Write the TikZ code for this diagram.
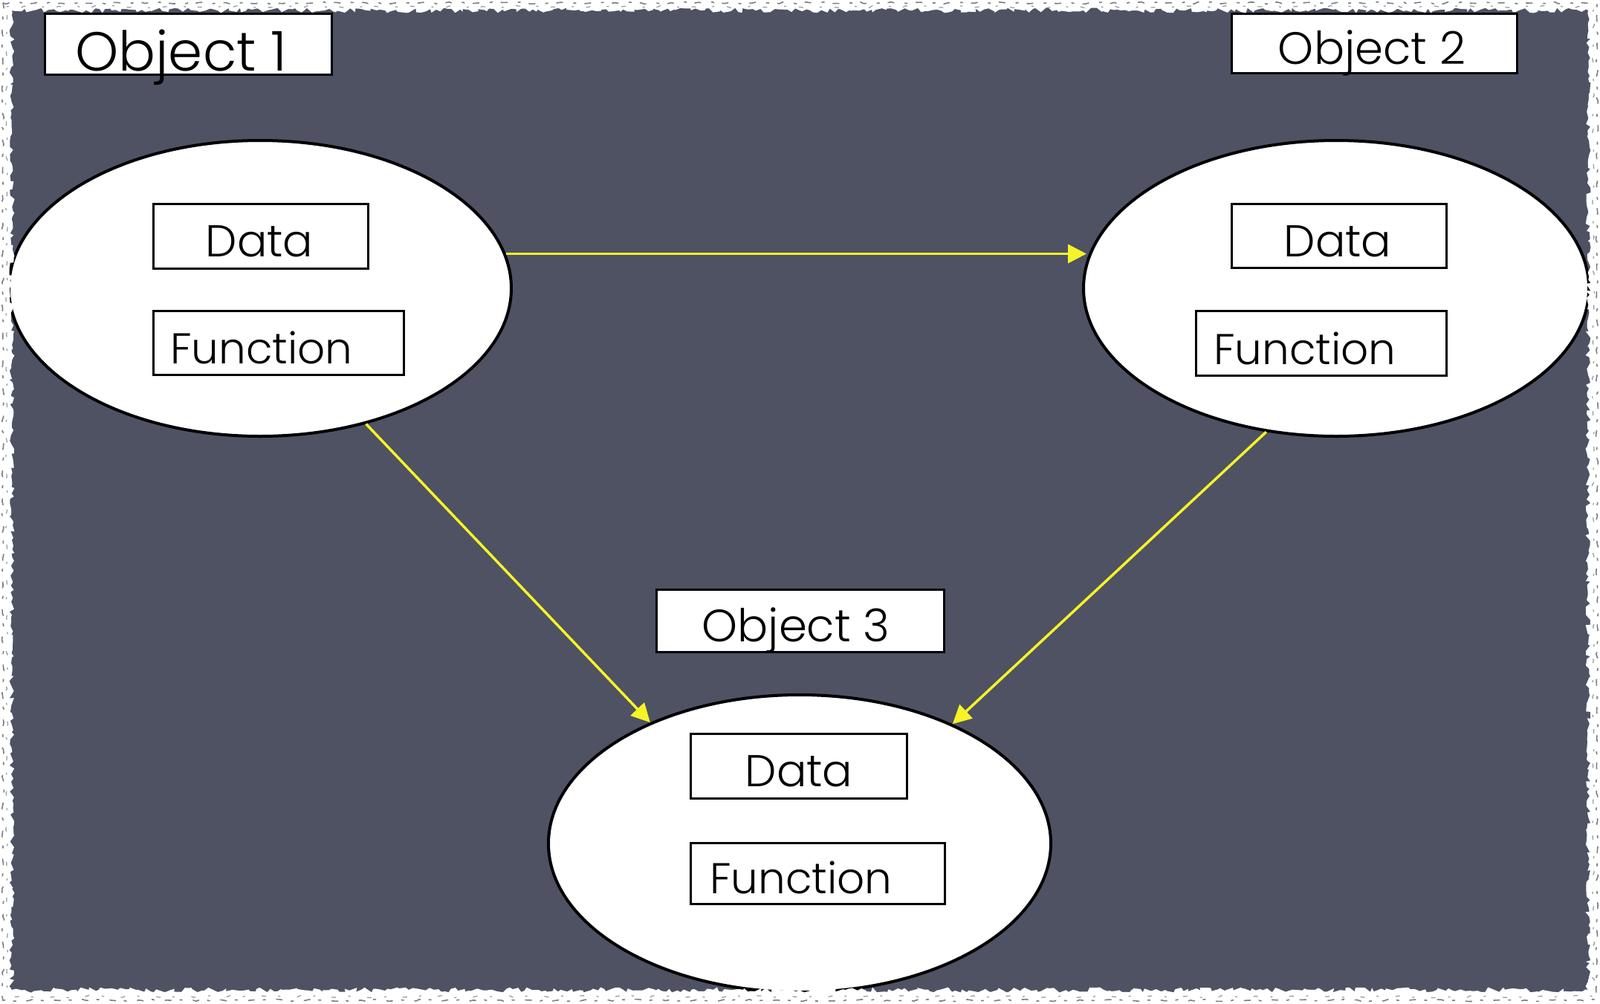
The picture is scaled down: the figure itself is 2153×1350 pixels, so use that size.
\documentclass[tikz,border=0pt]{standalone}
\usepackage{fontspec}
\setmainfont{Poppins Light}
\usetikzlibrary{arrows.meta,decorations.pathmorphing,calc,shapes.geometric}
\definecolor{board}{RGB}{78,82,99}
\definecolor{arrowyel}{RGB}{246,244,38}
\tikzset{
  objell/.style={ellipse, draw=black, fill=white, line width=4pt, inner sep=0pt,
                 minimum width=676pt, minimum height=398pt},
  objbox/.style={rectangle, draw=black, fill=white, line width=3.5pt, inner sep=0pt},
  lbl/.style={inner sep=0pt, text=black},
  biglbl/.style={lbl, font=\fontsize{74}{74}\selectfont},
  midlbl/.style={lbl, font=\fontsize{61}{61}\selectfont},
  datalbl/.style={lbl, font=\fontsize{60}{60}\selectfont},
  funlbl/.style={lbl, font=\fontsize{58}{58}\selectfont},
  yarrow/.style={draw=arrowyel, line width=3.5pt, -{Triangle[length=25pt,width=25pt]}},
}
\begin{document}
\begin{tikzpicture}[x=1pt,y=-1pt]
\useasboundingbox (0,0) rectangle (2153,1350);
% chalkboard
\fill[board] (0,0) rectangle (2153,1350);

% ellipses
\node[objell] (e1) at (350,388) {};
\node[objell, minimum width=680pt] (e2) at (1798,388) {};
\node[objell, minimum height=400pt] (e3) at (1076,1135) {};

% title boxes
\node[objbox, minimum width=386pt, minimum height=82pt] (o1) at (253.5,59.5) {};
\node[objbox, minimum width=384pt, minimum height=80pt] (o2) at (1849.5,58.5) {};
\node[objbox, minimum width=387pt, minimum height=84pt] (o3) at (1077,835.5) {};
\node[biglbl, anchor=base] (o1t) at (244,95) {Object 1};
\node[midlbl, anchor=base] (o2t) at (1846,86) {Object 2};
\node[midlbl, anchor=base] (o3t) at (1071,863) {Object 3};

% data / function boxes
\node[objbox, minimum width=289pt, minimum height=87pt] (d1) at (351,318) {};
\node[objbox, minimum width=337pt, minimum height=86pt] (f1) at (375,461.5) {};
\node[objbox, minimum width=289pt, minimum height=86pt] (d2) at (1802,317.5) {};
\node[objbox, minimum width=337pt, minimum height=87pt] (f2) at (1778,462) {};
\node[objbox, minimum width=291pt, minimum height=87pt] (d3) at (1075,1031) {};
\node[objbox, minimum width=342pt, minimum height=82pt] (f3) at (1100.5,1175.5) {};

\node[datalbl, anchor=base] (d1t) at (349,345) {Data};
\node[datalbl, anchor=base] (d2t) at (1800,345) {Data};
\node[datalbl, anchor=base] (d3t) at (1075,1058) {Data};
\node[funlbl, anchor=base west] (f1t) at (229,489) {Function};
\node[funlbl, anchor=base west] (f2t) at (1633,490) {Function};
\node[funlbl, anchor=base west] (f3t) at (955,1202) {Function};

% connectors
\coordinate (a1s) at (e1.8.1);
\draw[yarrow] (a1s) -- ([xshift=6pt]a1s -| e2.west);
\draw[yarrow] (e1.-52.1) -- (e3.141.1);
\draw[yarrow] (e2.-116.7) -- (e3.38.8);

% rough white frame
\fill[white, even odd rule] (0,0) rectangle (2153,1350)
  decorate[decoration={random steps,segment length=5pt,amplitude=3.5pt}]
  {(16,14) -- (2137,14) -- (2137,1332) -- (16,1332) -- cycle};
\draw[board!75!white, line width=1.6pt, dash pattern=on 9pt off 14pt on 4pt off 11pt,
  decorate, decoration={random steps,segment length=6pt,amplitude=1.5pt}]
  (4,4) -- (2149,4) -- (2149,1346) -- (4,1346) -- cycle;
\draw[board!60!white, line width=1.2pt, dash pattern=on 3pt off 17pt on 6pt off 23pt,
  decorate, decoration={random steps,segment length=5pt,amplitude=1.5pt}]
  (9,9) -- (2144,9) -- (2144,1341) -- (9,1341) -- cycle;
\end{tikzpicture}
\end{document}
